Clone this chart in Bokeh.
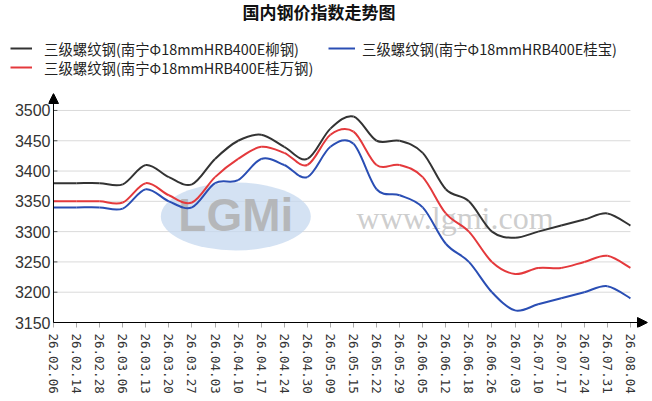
from bokeh.plotting import figure
from bokeh.models import (ColumnDataSource, FixedTicker, Legend, LegendItem,
                          Arrow, NormalHead, Range1d)
from bokeh.core.properties import value
from bokeh.embed import file_html
from bokeh.resources import INLINE

# ---------------- data ----------------
labels = ["26.02.06", "26.02.14", "26.02.28", "26.03.06", "26.03.13", "26.03.20",
          "26.03.27", "26.04.03", "26.04.10", "26.04.17", "26.04.24", "26.04.30",
          "26.05.09", "26.05.15", "26.05.22", "26.05.29", "26.06.05", "26.06.12",
          "26.06.18", "26.06.26", "26.07.03", "26.07.10", "26.07.17", "26.07.24",
          "26.07.31", "26.08.04"]

liugang = [3380, 3380, 3380, 3378, 3410, 3390, 3378, 3420, 3450, 3460, 3440, 3420, 3470,
           3490, 3450, 3450, 3430, 3370, 3350, 3300, 3290, 3300, 3310, 3320, 3330, 3310]
guibao = [3340, 3340, 3340, 3338, 3370, 3350, 3340, 3380, 3385, 3420, 3410, 3390, 3440,
          3445, 3370, 3360, 3340, 3280, 3250, 3200, 3170, 3180, 3190, 3200, 3210, 3190]
guiwan = [3350, 3350, 3350, 3348, 3380, 3360, 3348, 3390, 3420, 3440, 3430, 3410, 3460,
          3465, 3410, 3410, 3390, 3330, 3300, 3250, 3230, 3240, 3240, 3250, 3260, 3240]

series_names = ["三级螺纹钢(南宁Φ18mmHRB400E柳钢)",
                "三级螺纹钢(南宁Φ18mmHRB400E桂宝)",
                "三级螺纹钢(南宁Φ18mmHRB400E桂万钢)"]
series_colors = ["#333333", "#2a4eb4", "#e4393c"]

y_ticks = [3150, 3200, 3250, 3300, 3350, 3400, 3450, 3500]
title_text = "国内钢价指数走势图"

# ---------------- helpers ----------------
def smooth_source(ys):
    """Bezier segments through the data points (Catmull-Rom control points)."""
    n = len(ys)
    xs = list(range(n))
    d = dict(x0=[], y0=[], x1=[], y1=[], cx0=[], cy0=[], cx1=[], cy1=[])
    for i in range(n - 1):
        a = max(i - 1, 0)
        b = min(i + 2, n - 1)
        d["x0"].append(xs[i]); d["y0"].append(ys[i])
        d["x1"].append(xs[i + 1]); d["y1"].append(ys[i + 1])
        d["cx0"].append(xs[i] + (xs[i + 1] - xs[a]) / 6.0)
        d["cy0"].append(ys[i] + (ys[i + 1] - ys[a]) / 6.0)
        d["cx1"].append(xs[i + 1] - (xs[b] - xs[i]) / 6.0)
        d["cy1"].append(ys[i + 1] - (ys[b] - ys[i]) / 6.0)
    return ColumnDataSource(d)

CJK = "Noto Sans CJK SC"
LAT = "Liberation Sans"
n = len(labels)
y_top = 3528          # arrow tip of the y axis
x_end = n - 1 + 0.74  # arrow tip of the x axis

# ================= header: title + legend (pixel-like coordinates) =================
HW, HH = 650, 80
pt = figure(width=HW, height=HH, x_range=Range1d(0, HW), y_range=Range1d(HH, 0),
            x_axis_type=None, y_axis_type=None,
            output_backend="svg", toolbar_location=None,
            min_border_left=0, min_border_right=0, min_border_top=0, min_border_bottom=0)
pt.title.text = ""
pt.outline_line_color = None
pt.xgrid.visible = False
pt.ygrid.visible = False

pt.text(x=[318.5], y=[10.5], text=[title_text], text_font=value(CJK),
        text_font_style="bold", text_font_size="17px", text_color="#111111",
        text_align="center", text_baseline="middle")

# legend key lines (kept outside the header's visible range)
keys = [pt.line(x=[-20, -10], y=[-20, -20], line_color=c, line_width=2)
        for c in series_colors]

leg_style = dict(padding=0, margin=0, spacing=0, glyph_height=14, label_height=14,
                 border_line_color=None, background_fill_alpha=0,
                 label_text_font=CJK, label_text_font_size="14.4px",
                 label_text_color="#222222")
pt.add_layout(Legend(items=[LegendItem(label=series_names[0], renderers=[keys[0]])],
                     location=(10, 21.5), glyph_width=22, label_standoff=12, **leg_style))
pt.add_layout(Legend(items=[LegendItem(label=series_names[2], renderers=[keys[2]])],
                     location=(10, 2.5), glyph_width=22, label_standoff=12, **leg_style))
pt.add_layout(Legend(items=[LegendItem(label=series_names[1], renderers=[keys[1]])],
                     location=(328, 21.5), glyph_width=27, label_standoff=7, **leg_style))

# ================= main chart =================
x_start = -5 / 23.08
y_start = y_ticks[0] - 5 / 30.3 * 50
p = figure(width=650, height=320,
           x_range=Range1d(x_start, x_end), y_range=Range1d(y_start, y_top),
           output_backend="svg", toolbar_location=None,
           min_border_left=48, min_border_right=3,
           min_border_top=13, min_border_bottom=73)
p.title.text = ""
p.outline_line_color = None
p.xgrid.visible = False
p.ygrid.visible = False

# grid lines (only up to last category)
gy = [t for t in y_ticks if t != y_ticks[0]]
p.segment(x0=[0] * len(gy), y0=gy, x1=[n - 1] * len(gy), y1=gy,
          line_color="#dadada", line_width=1)

# watermark
p.ellipse(x=[7.9], y=[3325], width=6.5, height=112,
          fill_color="#c5d8ef", fill_alpha=0.75, line_color=None)
p.text(x=[7.9], y=[3327], text=["LGMi"], text_font=value(LAT),
       text_font_style="bold", text_font_size="46px", text_color="#b0b0b0",
       text_alpha=0.85, text_align="center", text_baseline="middle")
p.text(x=[17.4], y=[3323], text=["www.lgmi.com"], text_font=value("Liberation Serif"),
       text_font_size="32px", text_color="#c8c8c8", text_alpha=0.9,
       text_align="center", text_baseline="middle")

# y tick marks on the axis line
p.segment(x0=[0] * len(y_ticks), y0=y_ticks, x1=[0.17] * len(y_ticks), y1=y_ticks,
          line_color="#555555", line_width=1)

# series
bz = dict(x0="x0", y0="y0", x1="x1", y1="y1", cx0="cx0", cy0="cy0", cx1="cx1", cy1="cy1")
p.bezier(source=smooth_source(liugang), line_color=series_colors[0], line_width=2, **bz)
p.bezier(source=smooth_source(guibao), line_color=series_colors[1], line_width=2, **bz)
p.bezier(source=smooth_source(guiwan), line_color=series_colors[2], line_width=2, **bz)

# axes (labels only; axis lines are drawn as arrows)
ya = p.yaxis[0]
ya.ticker = FixedTicker(ticks=y_ticks)
ya.major_label_text_font = LAT
ya.major_label_text_font_size = "16px"
ya.major_label_text_color = "#333333"
ya.axis_line_color = None
ya.major_tick_line_color = None
ya.minor_tick_line_color = None
ya.major_tick_in = 0
ya.major_tick_out = 0
ya.major_label_standoff = -2

xa = p.xaxis[0]
xa.ticker = FixedTicker(ticks=list(range(n)))
xa.major_label_overrides = {i: lab for i, lab in enumerate(labels)}
xa.major_label_orientation = "vertical"
xa.major_label_text_font = "DejaVu Sans Mono"
xa.major_label_text_font_size = "12.5px"
xa.major_label_text_color = "#333333"
xa.axis_line_color = None
xa.major_tick_in = 5
xa.major_tick_out = 0
xa.major_tick_line_color = "#aaaaaa"
xa.minor_tick_line_color = None
xa.major_label_standoff = 6

# axis lines with arrows
p.add_layout(Arrow(end=NormalHead(size=10, fill_color="black", line_color="black"),
                   x_start=0, y_start=y_ticks[0], x_end=0, y_end=y_top,
                   line_color="black", line_width=1))
p.add_layout(Arrow(end=NormalHead(size=10, fill_color="black", line_color="black"),
                   x_start=0, y_start=y_ticks[0], x_end=x_end, y_end=y_ticks[0],
                   line_color="black", line_width=1))

open("out.html", "w").write(file_html([pt, p], INLINE))
